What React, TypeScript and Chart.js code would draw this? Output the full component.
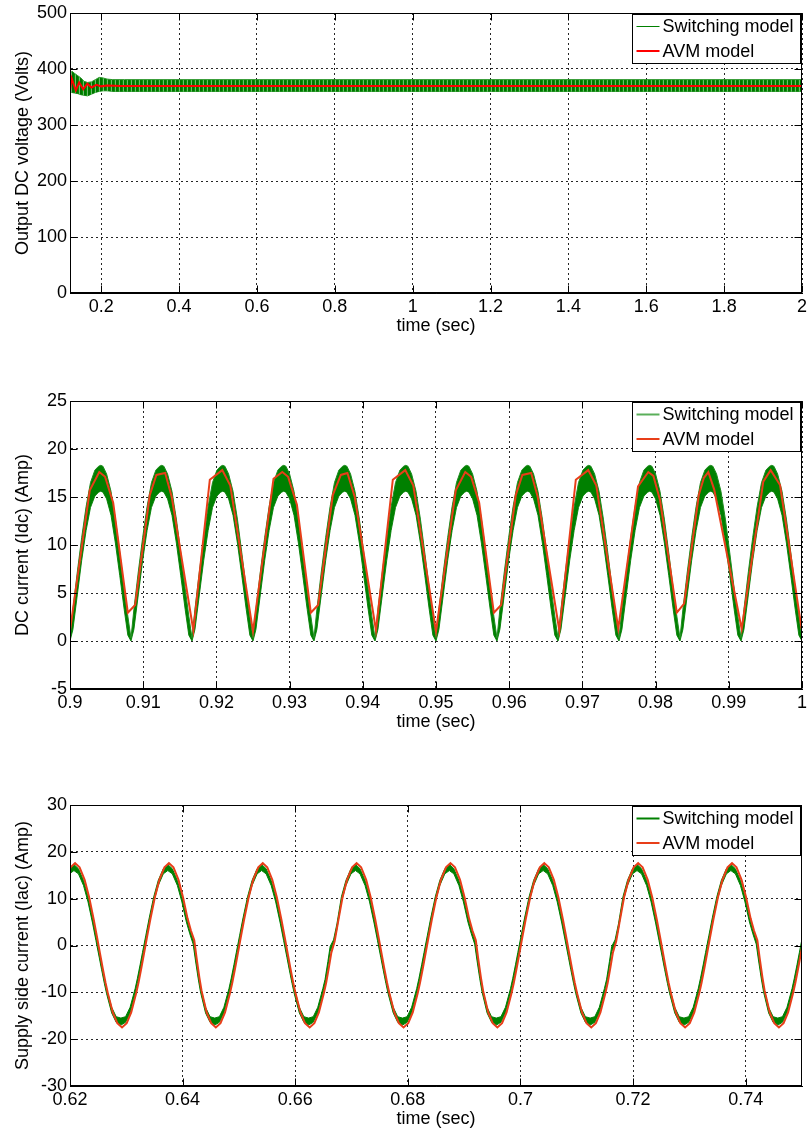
import React, { useEffect, useRef } from "react";
import { Chart, registerables } from "chart.js";

Chart.register(...registerables);

const FONT = "'Liberation Sans', Arial, Helvetica, sans-serif";
const SERIES_NAMES = ["Switching model", "AVM model"];
const X_TITLE = "time (sec)";

// ---------- Plot 1 : output DC voltage ----------
const vdcYTitle = "Output DC voltage (Volts)";
const vdcXRange = [0.12, 2];
const vdcYRange = [0, 500];
const vdcXTicks = [0.2, 0.4, 0.6, 0.8, 1, 1.2, 1.4, 1.6, 1.8, 2];
const vdcXTickLabels = ["0.2", "0.4", "0.6", "0.8", "1", "1.2", "1.4", "1.6", "1.8", "2"];
const vdcYTicks = [0, 100, 200, 300, 400, 500];
const vdcYTickLabels = ["0", "100", "200", "300", "400", "500"];
// AVM model (red)
const vdcAvmT = [0.12, 0.1243, 0.135, 0.1435, 0.154, 0.1645, 0.175, 0.188, 0.2, 0.215, 0.25, 0.5, 1.0, 1.5, 2.0];
const vdcAvmV = [362, 383, 361.6, 376, 364, 373.6, 367, 371.8, 369, 370.6, 369.6, 369.6, 369.6, 369.6, 369.6];
// Switching model (green ripple band: upper / lower envelope)
const vdcSwT = [0.12, 0.125, 0.132, 0.14, 0.148, 0.156, 0.165, 0.175, 0.185, 0.195, 0.205, 0.215, 0.23, 0.26, 0.4, 0.8, 1.2, 1.6, 2.0];
const vdcSwHi = [392, 396, 392, 388, 384, 378, 376, 377, 381, 385, 384, 382, 381, 381, 381, 381, 381, 381, 381];
const vdcSwLo = [360, 358, 357, 356, 354, 353, 352, 355, 358, 360, 361, 361, 360, 360, 360, 360, 360, 360, 360];

// ---------- Plot 2 : DC current ----------
const idcYTitle = "DC current (Idc) (Amp)";
const idcXRange = [0.9, 1];
const idcYRange = [-5, 25];
const idcXTicks = [0.9, 0.91, 0.92, 0.93, 0.94, 0.95, 0.96, 0.97, 0.98, 0.99, 1];
const idcXTickLabels = ["0.9", "0.91", "0.92", "0.93", "0.94", "0.95", "0.96", "0.97", "0.98", "0.99", "1"];
const idcYTicks = [-5, 0, 5, 10, 15, 20, 25];
const idcYTickLabels = ["-5", "0", "5", "10", "15", "20", "25"];
// AVM model (red)
const idcAvmT = [
  0.9, 0.9027, 0.904, 0.9048, 0.9059, 0.9079, 0.9089,
  0.9109, 0.9118, 0.913, 0.9139, 0.91685,
  0.9191, 0.9208, 0.9219, 0.925,
  0.9278, 0.929, 0.9298, 0.931, 0.9329, 0.9339,
  0.9359, 0.937, 0.9379, 0.9389, 0.9418,
  0.9441, 0.9458, 0.9469, 0.95,
  0.9527, 0.954, 0.9548, 0.9559, 0.9579, 0.9589,
  0.9609, 0.9618, 0.963, 0.9639, 0.96685,
  0.9691, 0.9708, 0.9719, 0.9749,
  0.9776, 0.979, 0.9797, 0.9806, 0.9829, 0.9839,
  0.9859, 0.9866, 0.9872, 0.988, 0.99176,
  0.99471, 0.99572, 0.997, 0.99995,
];
const idcAvmV = [
  1.1, 15.7, 17.6, 17.1, 14.4, 2.95, 3.75,
  15.2, 17.3, 17.5, 15.0, 1.1,
  16.8, 17.8, 16.2, 1.0,
  16.9, 17.6, 17.1, 14.2, 2.95, 3.75,
  15.2, 17.3, 17.5, 15.0, 1.1,
  16.8, 17.8, 16.2, 1.0,
  15.7, 17.6, 17.1, 14.4, 2.95, 3.75,
  15.2, 17.3, 17.5, 15.0, 1.1,
  16.8, 17.8, 16.2, 1.3,
  16.1, 17.6, 17.2, 14.7, 2.95, 3.9,
  15.2, 17.0, 17.6, 15.8, 1.25,
  16.6, 17.8, 16.25, 1.25,
];
// Switching model: trough times and one rectified half-cycle band (offset from trough)
const idcSwTroughs = [0.9, 0.90833, 0.91667, 0.925, 0.93333, 0.94167, 0.95, 0.95833, 0.96667, 0.975, 0.98333, 0.99167, 1.0];
const idcSwOffset = [0, 0.0004, 0.001, 0.0016, 0.0022, 0.0028, 0.0034, 0.0039, 0.0042, 0.0045, 0.005, 0.0056, 0.0062, 0.0068, 0.0074, 0.0079];
const idcSwHi = [0.3, 3.3, 7.2, 10.8, 14.0, 16.5, 17.8, 18.2, 18.3, 18.2, 17.4, 15.6, 12.7, 9.2, 5.5, 2.6];
const idcSwLo = [0.0, 1.2, 4.8, 8.4, 11.5, 13.9, 15.1, 15.5, 15.6, 15.5, 14.8, 13.1, 10.2, 6.8, 3.3, 0.6];

// ---------- Plot 3 : supply side current ----------
const iacYTitle = "Supply side current (Iac) (Amp)";
const iacXRange = [0.62, 0.75];
const iacYRange = [-30, 30];
const iacXTicks = [0.62, 0.64, 0.66, 0.68, 0.7, 0.72, 0.74];
const iacXTickLabels = ["0.62", "0.64", "0.66", "0.68", "0.7", "0.72", "0.74"];
const iacYTicks = [-30, -20, -10, 0, 10, 20, 30];
const iacYTickLabels = ["-30", "-20", "-10", "0", "10", "20", "30"];
// positive peaks, and which zero crossing of each cycle shows a shoulder (N none, F falling, R rising)
const iacPeaks = [0.60423, 0.6209, 0.63757, 0.65423, 0.6709, 0.68757, 0.70423, 0.7209, 0.73757, 0.75423];
const iacCycleKind = ["N", "N", "F", "N", "R", "F", "N", "R", "F", "N"];
// AVM model: one cycle (offset from positive peak)
const iacAvmOffset = [-0.00833, -0.0075, -0.0067, -0.0058, -0.0054, -0.0049, -0.0045, -0.0039, -0.0033, -0.0025, -0.0017, -0.0008, 0, 0.0008, 0.0017, 0.0025, 0.0033, 0.0039, 0.0045, 0.0049, 0.0054, 0.0058, 0.0067, 0.0075];
const iacAvmN = [-17.5, -16.6, -14.3, -10.1, -7.9, -4.8, -2.2, 1.75, 5.6, 10.3, 14.0, 16.7, 17.6, 16.7, 14.0, 10.3, 5.6, 1.75, -2.2, -4.8, -7.9, -10.1, -14.3, -16.6];
const iacAvmF = [-17.5, -16.6, -14.3, -10.1, -7.9, -4.8, -2.2, 1.75, 5.6, 10.3, 14.0, 16.7, 17.6, 16.7, 14.0, 10.3, 5.8, 3.2, 1.1, -2.6, -6.8, -9.7, -14.3, -16.6];
const iacAvmR = [-17.5, -16.6, -14.3, -10.1, -7.9, -4.5, -1.6, 0.9, 5.0, 10.3, 14.0, 16.7, 17.6, 16.7, 14.0, 10.3, 5.6, 1.75, -2.2, -4.8, -7.9, -10.1, -14.3, -16.6];
// Switching model: one cycle band (offset from positive peak)
const iacSwOffset = [-0.00853, -0.0077, -0.0069, -0.006, -0.0056, -0.0051, -0.0047, -0.0041, -0.0035, -0.0027, -0.0019, -0.001, -0.0002, 0.0006, 0.0015, 0.0023, 0.0031, 0.0037, 0.0043, 0.0047, 0.0052, 0.0056, 0.0065, 0.0073];
const iacSwHiN = [-15.5, -15.2, -13.2, -9.2, -7.0, -4.0, -1.5, 2.2, 5.9, 10.4, 13.9, 16.4, 17.3, 16.4, 13.9, 10.4, 5.9, 2.2, -1.5, -4.0, -7.0, -9.2, -13.2, -15.2];
const iacSwLoN = [-17.0, -16.4, -14.4, -10.3, -8.1, -5.1, -2.6, 1.1, 4.8, 9.3, 12.8, 15.3, 16.0, 15.3, 12.8, 9.3, 4.8, 1.1, -2.6, -5.1, -8.1, -10.3, -14.4, -16.4];
const iacSwHiF = [-15.5, -15.2, -13.2, -9.2, -7.0, -4.0, -1.5, 2.2, 5.9, 10.4, 13.9, 16.4, 17.3, 16.4, 13.9, 10.4, 6.1, 3.6, 1.4, -2.0, -6.0, -8.8, -13.2, -15.2];
const iacSwLoF = [-17.0, -16.4, -14.4, -10.3, -8.1, -5.1, -2.6, 1.1, 4.8, 9.3, 12.8, 15.3, 16.0, 15.3, 12.8, 9.3, 5.0, 2.5, 0.3, -3.1, -7.1, -9.9, -14.4, -16.4];
const iacSwHiR = [-15.5, -15.2, -13.2, -9.2, -7.2, -3.4, -0.2, 1.2, 4.6, 10.4, 13.9, 16.4, 17.3, 16.4, 13.9, 10.4, 5.9, 2.2, -1.5, -4.0, -7.0, -9.2, -13.2, -15.2];
const iacSwLoR = [-17.0, -16.4, -14.4, -10.3, -8.3, -4.5, -1.3, 0.1, 3.5, 9.3, 12.8, 15.3, 16.0, 15.3, 12.8, 9.3, 4.8, 1.1, -2.6, -5.1, -8.1, -10.3, -14.4, -16.4];

// ---------- helpers ----------
const pts = (xs: number[], ys: number[]) => xs.map((x, i) => ({ x, y: ys[i] }));
const tile = (starts: number[], offs: number[], vals: number[]) =>
  starts.flatMap((s) => offs.map((o, i) => ({ x: s + o, y: vals[i] })));
const tileKinds = (starts: number[], kinds: string[], offs: number[], table: Record<string, number[]>) =>
  starts.flatMap((s, k) => offs.map((o, i) => ({ x: s + o, y: table[kinds[k]][i] })));

const GREEN = "rgb(0,128,0)";
const RED_TOP = "rgb(255,0,0)";
const RED = "rgb(232,62,25)";

const frameLegendPlugin = {
  id: "frameLegend",
  afterDraw(chart: any, _args: any, opts: any) {
    const { ctx, chartArea: a } = chart;
    const xs = chart.scales.x;
    const ys = chart.scales.y;
    ctx.save();
    ctx.strokeStyle = "#000";
    ctx.lineWidth = 1;
    ctx.setLineDash([]);
    const L = Math.round(a.left) + 0.5;
    const R = Math.round(a.right) - 0.5;
    const T = Math.round(a.top) + 0.5;
    const B = Math.round(a.bottom) - 0.5;
    ctx.strokeRect(L, T, R - L, B - T);
    const tl = 7;
    ctx.beginPath();
    xs.ticks.forEach((t: any) => {
      const p = Math.round(xs.getPixelForValue(t.value)) + 0.5;
      ctx.moveTo(p, B);
      ctx.lineTo(p, B - tl);
      ctx.moveTo(p, T);
      ctx.lineTo(p, T + tl);
    });
    ys.ticks.forEach((t: any) => {
      const p = Math.round(ys.getPixelForValue(t.value)) + 0.5;
      ctx.moveTo(L, p);
      ctx.lineTo(L + tl, p);
      ctx.moveTo(R, p);
      ctx.lineTo(R - tl, p);
    });
    ctx.stroke();

    // legend box
    const items = opts.items || [];
    const bw = 168;
    const bh = 49;
    const bx = Math.round(a.right) - 2 - bw + 0.5;
    const by = Math.round(a.top) + 1 + 0.5;
    ctx.fillStyle = "#fff";
    ctx.fillRect(bx, by, bw, bh);
    ctx.strokeStyle = "#000";
    ctx.lineWidth = 1;
    ctx.strokeRect(bx, by, bw, bh);
    ctx.font = `18px ${FONT}`;
    ctx.textBaseline = "middle";
    ctx.textAlign = "left";
    items.forEach((it: any, i: number) => {
      const cy = by + 12 + i * 24.5;
      ctx.beginPath();
      ctx.strokeStyle = it.color;
      ctx.lineWidth = it.width;
      ctx.moveTo(bx + 4, cy);
      ctx.lineTo(bx + 27, cy);
      ctx.stroke();
      ctx.fillStyle = "#000";
      ctx.fillText(it.label, bx + 30, cy + 1);
    });
    ctx.restore();
  },
};

type Spec = {
  top: number;
  height: number;
  xRange: number[];
  yRange: number[];
  xTicks: number[];
  xTickLabels: string[];
  yTicks: number[];
  yTickLabels: string[];
  yTitle: string;
  datasets: (ctx: CanvasRenderingContext2D) => any[];
  legend: { label: string; color: string; width: number }[];
};

function buildConfig(spec: Spec, ctx: CanvasRenderingContext2D): any {
  const tickFont = { family: FONT, size: 18 };
  return {
    type: "line",
    data: { datasets: spec.datasets(ctx) },
    plugins: [frameLegendPlugin],
    options: {
      animation: false,
      responsive: false,
      devicePixelRatio: 1,
      normalized: true,
      layout: { padding: { top: 20, right: 9, left: 0, bottom: 0 } },
      elements: { point: { radius: 0 }, line: { tension: 0 } },
      plugins: {
        legend: { display: false },
        tooltip: { enabled: false },
        frameLegend: { items: spec.legend },
      },
      scales: {
        x: {
          type: "linear",
          min: spec.xRange[0],
          max: spec.xRange[1],
          afterBuildTicks: (s: any) => {
            s.ticks = spec.xTicks.map((v) => ({ value: v }));
          },
          afterFit: (s: any) => {
            s.height = 44;
          },
          ticks: {
            autoSkip: false,
            maxRotation: 0,
            padding: 3,
            color: "#000",
            font: tickFont,
            callback: (_v: any, i: number) => spec.xTickLabels[i],
          },
          grid: { color: "rgba(0,0,0,0.85)", lineWidth: 1, drawTicks: false },
          border: { display: true, color: "#000", width: 1, dash: [2, 3] },
          title: {
            display: true,
            text: X_TITLE,
            color: "#000",
            font: tickFont,
            padding: { top: 0, bottom: 0 },
          },
        },
        y: {
          type: "linear",
          min: spec.yRange[0],
          max: spec.yRange[1],
          afterBuildTicks: (s: any) => {
            s.ticks = spec.yTicks.map((v) => ({ value: v }));
          },
          afterFit: (s: any) => {
            s.width = 70;
          },
          ticks: {
            autoSkip: false,
            padding: 3,
            color: "#000",
            font: tickFont,
            callback: (_v: any, i: number) => spec.yTickLabels[i],
          },
          grid: { color: "rgba(0,0,0,0.85)", lineWidth: 1, drawTicks: false },
          border: { display: true, color: "#000", width: 1, dash: [2, 3] },
          title: {
            display: true,
            text: spec.yTitle,
            color: "#000",
            font: tickFont,
            padding: { top: 12, bottom: 0 },
          },
        },
      },
    },
  };
}

function stripePattern(ctx: CanvasRenderingContext2D) {
  const c = document.createElement("canvas");
  c.width = 4;
  c.height = 1;
  const g = c.getContext("2d")!;
  g.fillStyle = "rgb(0,115,0)";
  g.fillRect(0, 0, 2, 1);
  g.fillStyle = "rgb(0,150,0)";
  g.fillRect(2, 0, 1, 1);
  g.fillStyle = "rgb(110,185,110)";
  g.fillRect(3, 0, 1, 1);
  return ctx.createPattern(c, "repeat") || GREEN;
}

const iacAvmTable = { N: iacAvmN, F: iacAvmF, R: iacAvmR };
const iacSwHiTable = { N: iacSwHiN, F: iacSwHiF, R: iacSwHiR };
const iacSwLoTable = { N: iacSwLoN, F: iacSwLoF, R: iacSwLoR };

const specs: Spec[] = [
  {
    top: -7,
    height: 344,
    xRange: vdcXRange,
    yRange: vdcYRange,
    xTicks: vdcXTicks,
    xTickLabels: vdcXTickLabels,
    yTicks: vdcYTicks,
    yTickLabels: vdcYTickLabels,
    yTitle: vdcYTitle,
    legend: [
      { label: SERIES_NAMES[0], color: GREEN, width: 1 },
      { label: SERIES_NAMES[1], color: RED_TOP, width: 2 },
    ],
    datasets: (ctx) => [
      { label: SERIES_NAMES[1], data: pts(vdcAvmT, vdcAvmV), borderColor: RED_TOP, borderWidth: 2, fill: false, order: 0 },
      { label: "", data: pts(vdcSwT, vdcSwLo), borderColor: "rgb(40,150,40)", borderWidth: 1, fill: false, order: 2 },
      { label: SERIES_NAMES[0], data: pts(vdcSwT, vdcSwHi), borderColor: "rgb(40,150,40)", borderWidth: 1, fill: "-1", backgroundColor: stripePattern(ctx), order: 1 },
    ],
  },
  {
    top: 381,
    height: 352,
    xRange: idcXRange,
    yRange: idcYRange,
    xTicks: idcXTicks,
    xTickLabels: idcXTickLabels,
    yTicks: idcYTicks,
    yTickLabels: idcYTickLabels,
    yTitle: idcYTitle,
    legend: [
      { label: SERIES_NAMES[0], color: "rgb(90,175,90)", width: 2 },
      { label: SERIES_NAMES[1], color: RED, width: 2 },
    ],
    datasets: () => [
      { label: SERIES_NAMES[1], data: pts(idcAvmT, idcAvmV), borderColor: RED, borderWidth: 2, fill: false, order: 0 },
      { label: "", data: tile(idcSwTroughs, idcSwOffset, idcSwLo), borderColor: "rgb(30,140,30)", borderWidth: 1, fill: false, order: 2 },
      { label: SERIES_NAMES[0], data: tile(idcSwTroughs, idcSwOffset, idcSwHi), borderColor: "rgb(30,140,30)", borderWidth: 1, fill: "-1", backgroundColor: GREEN, order: 1 },
    ],
  },
  {
    top: 785,
    height: 345,
    xRange: iacXRange,
    yRange: iacYRange,
    xTicks: iacXTicks,
    xTickLabels: iacXTickLabels,
    yTicks: iacYTicks,
    yTickLabels: iacYTickLabels,
    yTitle: iacYTitle,
    legend: [
      { label: SERIES_NAMES[0], color: GREEN, width: 2 },
      { label: SERIES_NAMES[1], color: RED, width: 2 },
    ],
    datasets: () => [
      { label: SERIES_NAMES[1], data: tileKinds(iacPeaks, iacCycleKind, iacAvmOffset, iacAvmTable), borderColor: RED, borderWidth: 2, fill: false, order: 0 },
      { label: "", data: tileKinds(iacPeaks, iacCycleKind, iacSwOffset, iacSwLoTable), borderColor: GREEN, borderWidth: 1, fill: false, order: 2 },
      { label: SERIES_NAMES[0], data: tileKinds(iacPeaks, iacCycleKind, iacSwOffset, iacSwHiTable), borderColor: GREEN, borderWidth: 1, fill: "-1", backgroundColor: GREEN, order: 1 },
    ],
  },
];

function Plot({ spec }: { spec: Spec }) {
  const ref = useRef<HTMLCanvasElement>(null);
  useEffect(() => {
    const canvas = ref.current!;
    const chart = new Chart(canvas, buildConfig(spec, canvas.getContext("2d")!));
    return () => chart.destroy();
  }, [spec]);
  return (
    <canvas
      ref={ref}
      width={811}
      height={spec.height}
      style={{ position: "absolute", left: 0, top: spec.top, width: 811, height: spec.height, display: "block" }}
    />
  );
}

export default function App() {
  return (
    <div style={{ position: "absolute", left: 0, top: 0, width: 811, height: 1133, background: "#fff", overflow: "hidden" }}>
      {specs.map((s, i) => (
        <Plot key={i} spec={s} />
      ))}
    </div>
  );
}
